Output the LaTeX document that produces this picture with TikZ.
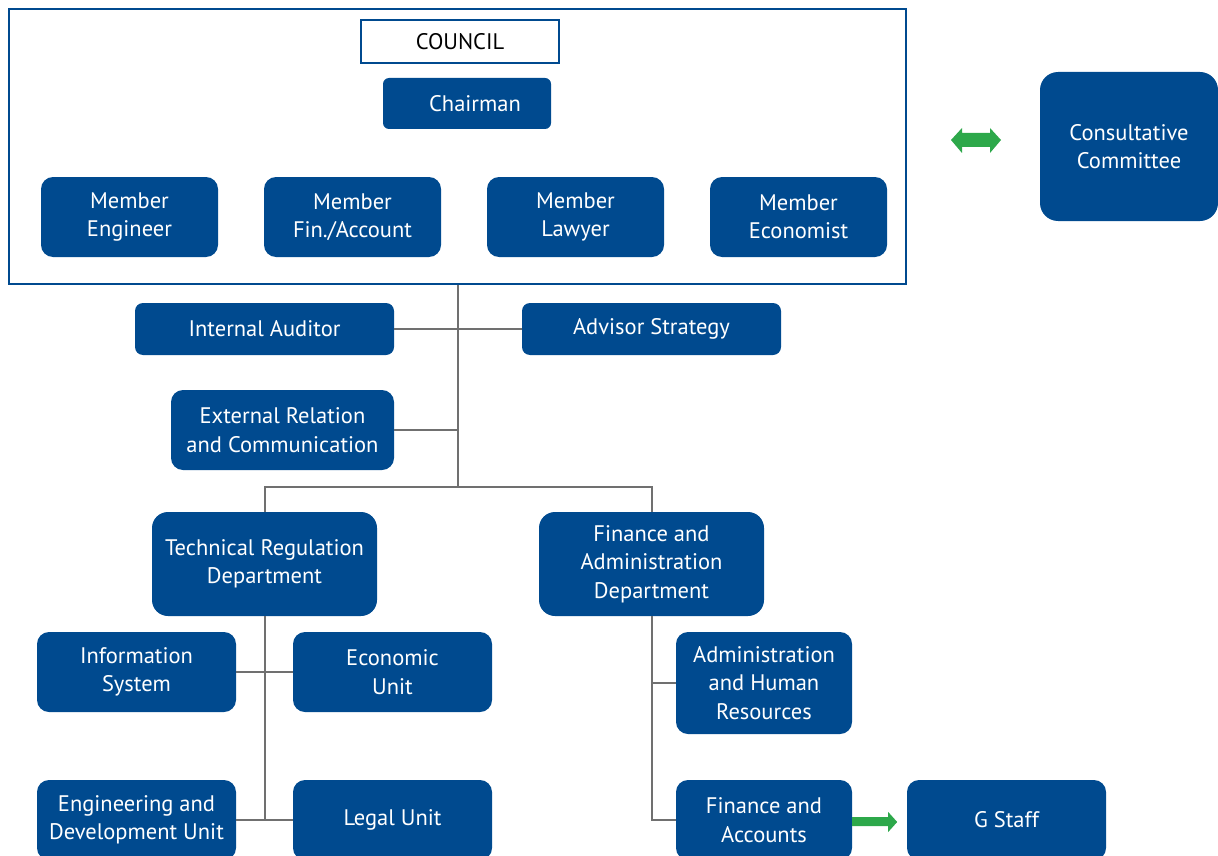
\documentclass[tikz,border=0pt]{standalone}
\usepackage{fontspec}
\setmainfont{PT Sans}
\definecolor{orgblue}{RGB}{0,74,143}
\definecolor{orggreen}{RGB}{45,168,74}
\definecolor{linkgray}{RGB}{112,112,112}
\begin{document}
\begin{tikzpicture}[x=1pt,y=-1pt,
  unit/.style={fill=orgblue, text=white, rounded corners=#1, align=center,
    inner sep=0pt, font=\fontsize{22.5}{28.5}\selectfont},
  unit/.default=12pt,
  link/.style={draw=linkgray, line width=2pt},
  flow/.style={fill=orggreen, draw=none}]
\useasboundingbox (0,0) rectangle (1218,856);
\clip (0,0) rectangle (1218,856);

% council frame and its members
\node[draw=orgblue, line width=2pt, minimum width=897pt, minimum height=275pt, inner sep=0pt]
  (frame) at (457.5,146.5) {};
\node[draw=orgblue, fill=white, line width=2.5pt, minimum width=198pt, minimum height=43pt,
  inner sep=0pt, font=\fontsize{22.5}{28.5}\selectfont] (council) at (460,41.5) {COUNCIL};
\node[unit=6pt, minimum width=168pt, minimum height=51pt] (chair) at (467,103.5) {\hspace*{16pt}Chairman};
\node[unit, minimum width=177pt, minimum height=80pt] (meng) at (129.5,217) {Member\\Engineer};
\node[unit, minimum width=177pt, minimum height=80pt] (mfin) at (352.5,217) {Member\\Fin./Account};
\node[unit, minimum width=177pt, minimum height=80pt] (mlaw) at (575.5,217) {Member\\Lawyer};
\node[unit, minimum width=177pt, minimum height=80pt] (meco) at (798.5,217) {Member\\Economist};

% consultative committee
\node[unit=18pt, minimum width=178pt, minimum height=149pt] (cons) at (1129,146.5) {Consultative\\Committee};
\coordinate (dl) at (951,140);
\coordinate (dr) at (1001,140);
\fill[flow] (dl) -- ++(11,-12) -- ++(0,5) -- ++(28,0) -- ++(0,-5) -- (dr)
  -- ++(-11,13) -- ++(0,-6) -- ++(-28,0) -- ++(0,6) -- cycle;

% staff units under the council
\node[unit=8pt, minimum width=259pt, minimum height=52pt] (audit) at (264.5,329) {Internal Auditor};
\node[unit=8pt, minimum width=259pt, minimum height=52pt] (advisor) at (651.5,329) {Advisor Strategy};
\node[unit, minimum width=223pt, minimum height=80pt] (extrel) at (282.5,430) {External Relation\\and Communication};

% departments
\node[unit=16pt, minimum width=225pt, minimum height=104pt] (tech) at (264.5,564) {Technical Regulation\\Department};
\node[unit=16pt, minimum width=225pt, minimum height=104pt] (finadm) at (651.5,564) {Finance and\\Administration\\Department};

% technical units
\node[unit, minimum width=199pt, minimum height=80pt] (infosys) at (136.5,672) {Information\\System};
\node[unit, minimum width=199pt, minimum height=80pt] (econ) at (392.5,672) {Economic\\Unit};
\node[unit, minimum width=199pt, minimum height=80pt] (engdev) at (136.5,820) {Engineering and\\Development Unit};
\node[unit, minimum width=199pt, minimum height=80pt] (legal) at (392.5,820) {Legal Unit};

% finance units
\node[unit, minimum width=176pt, minimum height=102pt] (adminhr) at (764,683) {Administration\\and Human\\Resources};
\node[unit, minimum width=176pt, minimum height=80pt] (finacc) at (764,820) {Finance and\\Accounts};
\node[unit, minimum width=199pt, minimum height=80pt] (gstaff) at (1006.5,820) {G Staff};

% connectors
\coordinate (bar) at (frame.south |- 0,487);
\draw[link] (frame.south) -- (bar);
\draw[link] (audit.east) -- (advisor.west);
\draw[link] (extrel.east) -- (extrel.east -| frame.south);
\draw[link] (tech.north) |- (bar) -| (finadm.north);
\draw[link] (tech.south) -- (tech.south |- legal.west);
\draw[link] (infosys.east) -- (econ.west);
\draw[link] (engdev.east) -- (legal.west);
\draw[link] (finadm.south) |- (finacc.west);
\draw[link] (adminhr.west) -- (adminhr.west -| finadm.south);

% flow from finance and accounts to g staff
\fill[flow] (finacc.east |- 0,817) -- ++(36,0) -- ++(0,-5) -- ++(9,10) -- ++(-9,10) -- ++(0,-6)
  -- (finacc.east |- 0,826) -- cycle;
\end{tikzpicture}
\end{document}
